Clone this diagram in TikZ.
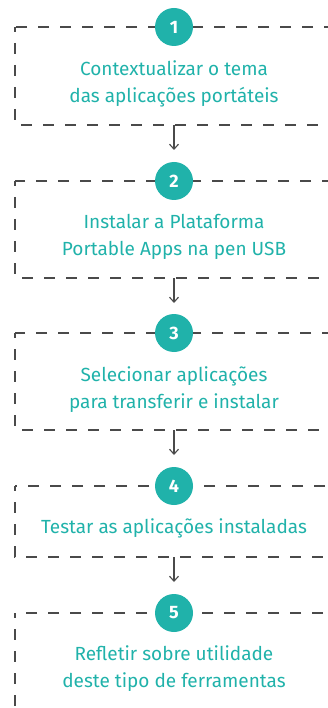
\documentclass[tikz,border=0pt]{standalone}
\usepackage{fontspec}
\setmainfont{Fira Sans}
\usetikzlibrary{arrows.meta}
\definecolor{teal1}{HTML}{20B2AA}
\definecolor{dgray}{HTML}{4A4A4A}
\tikzset{
  stepbox/.style={draw=dgray, line width=1.6pt, dash pattern=on 11pt off 11pt, dash phase=6pt},
  badge/.style={circle, fill=teal1, minimum size=38pt, inner sep=0pt, text=white, font=\fontsize{18}{18}\selectfont\bfseries},
  label/.style={text=teal1, align=center, font=\fontsize{19}{27}\selectfont},
  conn/.style={draw=dgray, line width=1.1pt, -{Straight Barb[length=5pt,width=9pt]}}
}
\begin{document}
\begin{tikzpicture}[x=1pt,y=-1pt]
\useasboundingbox (0,0) rectangle (328,708);
\begin{scope}
\clip (0,0) rectangle (328,708);
% boxes
\draw[stepbox] (15,27) rectangle (360,125);
\draw[stepbox] (15,181) rectangle (360,278);
\draw[stepbox] (15,333) rectangle (360,430);
\draw[stepbox] (15,486) rectangle (360,557);
\draw[stepbox] (15,613) rectangle (360,760);
\end{scope}
% badges
\node[badge] (b1) at (174,27) {1};
\node[badge] (b2) at (174,181) {2};
\node[badge] (b3) at (174,333) {3};
\node[badge] (b4) at (174,486) {4};
\node[badge] (b5) at (174,613) {5};
% labels
\node[label] (t1) at (174,83.5) {Contextualizar o tema\\das aplicações portáteis};
\node[label] (t2) at (174,236.5) {Instalar a Plataforma\\Portable Apps na pen USB};
\node[label] (t3) at (174,390) {Selecionar aplicações\\para transferir e instalar};
\node[label] (t4) at (174,528) {Testar as aplicações instaladas};
\node[label] (t5) at (174,669) {Refletir sobre utilidade\\deste tipo de ferramentas};
% connectors
\coordinate (e1) at (174,125); \coordinate (f1) at (174,150);
\coordinate (e2) at (174,278); \coordinate (f2) at (174,303);
\coordinate (e3) at (174,430); \coordinate (f3) at (174,455);
\coordinate (e4) at (174,557); \coordinate (f4) at (174,582);
\draw[conn] (e1) -- (f1);
\draw[conn] (e2) -- (f2);
\draw[conn] (e3) -- (f3);
\draw[conn] (e4) -- (f4);
\end{tikzpicture}
\end{document}
